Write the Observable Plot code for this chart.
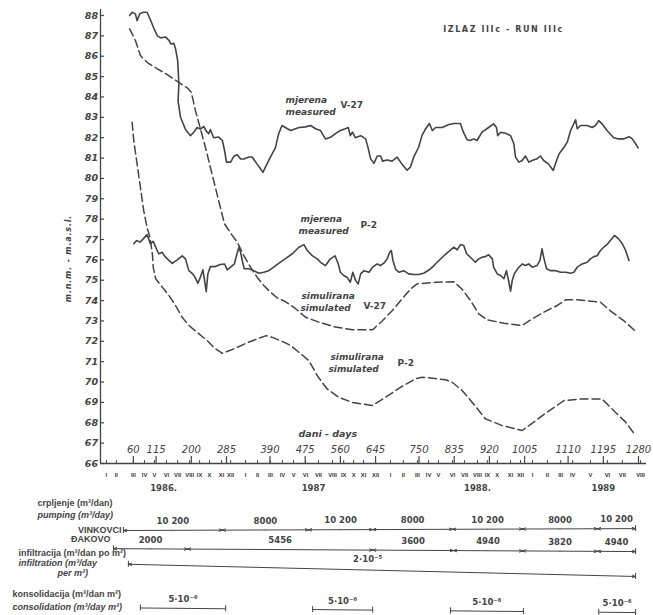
<!DOCTYPE html>
<html><head><meta charset="utf-8">
<script src="https://cdn.jsdelivr.net/npm/d3@7"></script>
<script src="https://cdn.jsdelivr.net/npm/@observablehq/plot@0.6"></script>
<style>body{margin:0;background:#fff}</style>
</head><body><div id="chart"></div>
<script>
// ---- data (days since start, m a.s.l.) ----
const measuredV27 = [[51,88.0],[57,88.16],[65,88.08],[69,87.75],[76,88.1],[85,88.16],[93,88.16],[101,87.8],[109,87.4],[118,87.0],[126,86.9],[138,86.94],[146,86.78],[151,86.6],[158,86.63],[162,86.36],[167,85.8],[170,84.65],[168,83.8],[174,83.0],[186,82.4],[198,82.1],[206,82.27],[214,82.5],[222,82.42],[230,82.55],[237,82.3],[242,82.2],[246,82.4],[254,82.0],[266,82.03],[275,81.86],[280,81.4],[285,80.8],[295,80.8],[303,81.1],[311,81.16],[319,80.95],[327,80.95],[339,81.05],[347,81.05],[359,80.7],[373,80.3],[379,80.55],[391,81.05],[403,81.5],[411,82.2],[419,82.6],[432,82.44],[440,82.35],[460,82.5],[476,82.53],[488,82.6],[500,82.44],[512,82.35],[524,81.94],[536,82.02],[548,82.2],[560,82.35],[572,82.44],[579,82.5],[584,82.1],[589,82.27],[596,82.0],[609,82.1],[621,81.94],[627,81.5],[633,80.96],[641,80.74],[649,81.1],[657,81.1],[662,80.85],[673,80.9],[685,80.85],[697,81.04],[709,80.7],[721,80.4],[729,80.55],[737,81.04],[749,81.53],[757,82.1],[766,82.44],[775,82.7],[782,82.35],[790,82.5],[806,82.5],[822,82.65],[834,82.7],[850,82.7],[857,82.27],[866,81.9],[874,81.86],[882,81.94],[890,81.86],[902,82.27],[918,82.5],[930,82.68],[937,82.5],[940,82.1],[947,82.27],[959,82.22],[971,82.1],[979,81.7],[983,81.04],[991,80.8],[999,80.88],[1007,81.1],[1015,80.8],[1023,80.88],[1035,80.96],[1043,81.1],[1051,80.88],[1063,80.7],[1074,80.39],[1079,80.7],[1088,81.2],[1100,81.53],[1108,81.78],[1116,82.35],[1128,82.88],[1132,82.44],[1140,82.6],[1156,82.6],[1168,82.5],[1176,82.6],[1184,82.84],[1192,82.68],[1204,82.35],[1220,82.0],[1232,81.94],[1244,81.94],[1257,82.05],[1265,81.94],[1273,81.7],[1279,81.5]];
const measuredP2 = [[61,76.79],[68,76.95],[76,76.87],[84,77.03],[93,77.24],[97,77.03],[101,76.79],[108,76.91],[114,76.62],[121,76.3],[130,76.37],[135,76.2],[142,76.05],[154,75.83],[166,76.0],[178,76.2],[186,76.05],[194,75.47],[202,75.34],[208,75.18],[216,74.85],[222,75.15],[228,75.51],[232,74.98],[236,74.44],[240,75.31],[246,75.67],[258,75.67],[270,75.77],[280,75.8],[287,75.51],[295,75.64],[304,75.8],[309,76.2],[315,76.62],[319,76.37],[323,75.97],[328,75.56],[339,75.56],[351,75.47],[363,75.34],[375,75.39],[387,75.47],[399,75.64],[411,75.83],[423,76.0],[444,76.3],[460,76.62],[472,76.75],[480,76.46],[492,76.21],[504,76.05],[512,75.88],[524,75.72],[536,76.05],[547,76.2],[555,75.8],[560,75.39],[568,75.23],[576,75.15],[584,74.9],[590,75.39],[597,74.98],[603,74.82],[609,75.31],[617,75.47],[629,75.39],[638,75.64],[649,75.8],[657,75.72],[667,75.88],[673,76.05],[679,76.37],[683,76.46],[687,75.97],[693,75.56],[701,75.39],[713,75.47],[725,75.31],[737,75.28],[749,75.28],[761,75.34],[774,75.5],[786,75.72],[798,75.97],[810,76.2],[822,76.42],[834,76.62],[842,76.49],[850,76.75],[858,76.7],[865,76.3],[874,76.13],[886,75.88],[894,76.05],[902,76.13],[910,76.16],[918,76.25],[927,76.05],[930,75.64],[939,75.31],[947,75.23],[955,75.07],[961,75.47],[967,74.9],[971,74.46],[975,74.98],[980,75.31],[988,75.56],[999,75.8],[1007,75.72],[1015,75.8],[1023,75.64],[1035,75.72],[1042,75.97],[1047,76.54],[1051,76.13],[1058,75.56],[1067,75.47],[1080,75.47],[1092,75.39],[1104,75.39],[1116,75.34],[1124,75.39],[1132,75.64],[1144,75.8],[1156,75.88],[1164,76.05],[1172,76.16],[1180,76.2],[1188,76.46],[1196,76.62],[1204,76.75],[1212,76.95],[1222,77.2],[1232,77.03],[1241,76.79],[1249,76.46],[1257,75.97]];
const simulatedV27 = [[51,87.35],[65,86.77],[77,86.04],[93,85.7],[118,85.38],[142,85.1],[166,84.76],[190,84.45],[200,84.23],[210,83.33],[222,82.44],[234,81.53],[246,80.55],[258,79.57],[269,78.67],[280,77.77],[291,77.44],[299,77.2],[311,76.87],[327,76.21],[343,75.64],[359,75.15],[375,74.74],[391,74.42],[407,74.14],[427,73.95],[452,73.6],[476,73.18],[508,72.94],[548,72.7],[589,72.57],[638,72.57],[661,73.0],[685,73.5],[709,74.08],[729,74.56],[745,74.82],[790,74.9],[834,74.93],[854,74.56],[876,73.95],[894,73.35],[915,73.05],[955,72.89],[999,72.78],[1023,73.1],[1051,73.43],[1084,73.76],[1104,74.04],[1132,74.04],[1188,73.92],[1212,73.5],[1244,73.02],[1273,72.49]];
const simulatedP2 = [[57,82.76],[61,81.86],[69,80.72],[77,79.57],[85,78.42],[93,77.6],[100,77.11],[106,76.3],[108,75.64],[114,75.07],[130,74.66],[146,74.25],[162,73.76],[178,73.18],[194,72.78],[214,72.44],[238,72.04],[254,71.7],[275,71.41],[303,71.63],[335,71.93],[359,72.12],[381,72.28],[399,72.17],[419,72.0],[440,71.8],[460,71.46],[484,71.05],[504,70.32],[528,69.66],[556,69.25],[589,69.0],[637,68.85],[669,69.25],[705,69.74],[741,70.16],[758,70.24],[814,70.11],[830,69.99],[854,69.59],[880,68.96],[910,68.2],[951,67.86],[999,67.62],[1027,68.03],[1059,68.52],[1100,69.09],[1140,69.17],[1192,69.17],[1220,68.6],[1249,68.03],[1273,67.37]];

const yTicks = d3.range(66, 89);
const dayTicks = [60,115,200,285,390,475,560,645,750,835,920,1005,1110,1195,1280];
const monthNames = ["I","II","III","IV","V","VI","VII","VIII","IX","X","XI","XII"];
const monthLabels = [...monthNames, ...monthNames, ...monthNames, ...monthNames.slice(0,8)];
const monthDays = [-5,19,60,87,111,140,167,196,220,244,273,295, 331,360,391,420,447,476,507,541,568,592,616,645, 681,712,746,773,797,831,860,891,915,939,971,995, 1024,1060,1092,1121,1164,1205,1241,1285];
const yearLabels = ["1986.","1987","1988.","1989"];
const yearDays = [133,495,891,1195];

// bottom: pumping / infiltration / consolidation schedules (days)
const vinkBreaks = [36,275,483,638,831,1000,1181,1273];
const vinkValues = ["10 200","8000","10 200","8000","10 200","8000","10 200"];
const dakBreaks = [12,191,638,833,1000,1181,1273];
const dakValues = ["2000","5456","3600","4940","3820","4940"];
const infBreaks = [48,1273];
const infValues = ["2·10⁻⁵"];
const infLabelDay = 626;
const consStart = [77,493,826,1184];
const consEnd = [283,638,1002,1273];
const consValues = ["5·10⁻⁶","5·10⁻⁶","5·10⁻⁶","5·10⁻⁶"];

// ---- layout helpers (pixel -> data units) ----
const X0 = 108, PXPD = 530/1280, Y88 = 15, PXPM = 20.36;
const dayAt = px => (px - X0) / PXPD;
const valAt = py => 88 - (py - Y88) / PXPM;
const C = "#444";
const FONT = "DejaVu Sans";
const FONT2 = "Liberation Sans";

function rowMarks(breaks, values, yl, yr, opts = {}) {
  const py = d => yl + (yr - yl) * ((X0 + d * PXPD) - 100) / 540;
  const segs = values.map((v, i) => ({a: breaks[i], b: breaks[i+1], v, m: opts.labelAt != null ? opts.labelAt : (breaks[i] + breaks[i+1]) / 2}));
  const arrows = [];
  segs.forEach(s => {
    const m = (s.a + s.b) / 2;
    arrows.push({x1: m, x2: s.a}, {x1: m, x2: s.b});
  });
  return [
    Plot.arrow(arrows, {x1: "x1", x2: "x2", y1: d => valAt(py(d.x1)), y2: d => valAt(py(d.x2)), stroke: C, strokeWidth: 1, headLength: 5, headAngle: 40}),
    Plot.ruleX([breaks[0]], {x: d => d, y1: d => valAt(py(d) - 3), y2: d => valAt(py(d) + 3), stroke: C, strokeWidth: 1}),
    Plot.ruleX([breaks[breaks.length-1]], {x: d => d, y1: d => valAt(py(d) - 3), y2: d => valAt(py(d) + 3), stroke: C, strokeWidth: 1}),
    Plot.text(segs, {x: "m", y: s => valAt(py(s.m) - (opts.lift || 9)), text: "v", fontSize: 8.5, fontWeight: "bold", fill: C, fontFamily: FONT})
  ];
}

function consMarks(yl, yr) {
  const py = d => yl + (yr - yl) * ((X0 + d * PXPD) - 100) / 540;
  const segs = consValues.map((v, i) => ({a: consStart[i], b: consEnd[i], v}));
  return [
    Plot.link(segs, {x1: "a", x2: "b", y1: s => valAt(py(s.a)), y2: s => valAt(py(s.b)), stroke: C, strokeWidth: 1}),
    Plot.ruleX(segs, {x: "a", y1: s => valAt(py(s.a) - 3), y2: s => valAt(py(s.a) + 3), stroke: C, strokeWidth: 1}),
    Plot.ruleX(segs, {x: "b", y1: s => valAt(py(s.b) - 3), y2: s => valAt(py(s.b) + 3), stroke: C, strokeWidth: 1}),
    Plot.text(segs, {x: s => (s.a + s.b) / 2, y: s => valAt(py((s.a + s.b) / 2) - 9), text: "v", fontSize: 8.5, fontWeight: "bold", fill: C, fontFamily: FONT})
  ];
}

const lineOpts = {x: d => d[0], y: d => d[1], stroke: C, strokeWidth: 1.6, strokeLinejoin: "round"};
const dashOpts = {...lineOpts, strokeWidth: 1.5, strokeDasharray: "8,4"};

function leftText(str, px, py, o = {}) {
  return Plot.text([str], {x: dayAt(px), y: valAt(py), text: d => d, textAnchor: o.anchor || "start", fontSize: o.size || 8.5, fontWeight: "bold", fontStyle: o.italic ? "italic" : "normal", fill: C, fontFamily: o.font || FONT});
}

const chart = Plot.plot({
  width: 653, height: 615, margin: 0,
  x: {domain: [0, 1280], range: [108, 638], axis: null},
  y: {domain: [66, 88], range: [463, 15], axis: null},
  style: {background: "#fff", fontFamily: FONT, color: C},
  marks: [
    // axes
    Plot.ruleX([dayAt(100)], {x: d => d, y1: valAt(9), y2: 66, stroke: C, strokeWidth: 1.3}),
    Plot.ruleY([66], {x1: dayAt(100), x2: dayAt(646), stroke: C, strokeWidth: 1.3}),
    Plot.ruleY(yTicks, {y: d => d, x1: dayAt(100), x2: dayAt(104), stroke: C, strokeWidth: 1.2}),
    Plot.text(yTicks, {x: dayAt(97.5), y: d => d, text: d => String(d), textAnchor: "end", fontSize: 9.5, fontWeight: "bold", fontStyle: "italic", fill: C}),
    Plot.ruleX(monthDays, {x: d => d, y1: 66, y2: valAt(460), stroke: C, strokeWidth: 1}),
    Plot.ruleX(dayTicks, {x: d => d, y1: 66, y2: valAt(456), stroke: C, strokeWidth: 1.2}),
    Plot.text(dayTicks, {x: d => d, y: valAt(449), text: d => String(d), fontSize: 10, fontStyle: "italic", fill: C}),
    Plot.text(monthLabels, {x: (d, i) => monthDays[i], y: valAt(475), text: d => d, fontSize: 5.8, fontWeight: "bold", fill: "#333", fontFamily: FONT2}),
    Plot.text(yearLabels, {x: (d, i) => yearDays[i], y: valAt(488), text: d => d, fontSize: 8.5, fontWeight: "bold", fill: C}),
    // y axis title
    Plot.text(["m.n.m. - m.a.s.l."], {x: dayAt(68), y: valAt(258), text: d => d, rotate: -90, fontSize: 8, fontWeight: "bold", fontStyle: "italic", fill: C}),
    // title
    Plot.text(["IZLAZ IIIc - RUN IIIc"], {x: dayAt(503), y: valAt(29), text: d => d, fontSize: 8, fontWeight: "bold", fill: C}),
    // series
    Plot.line(simulatedV27, dashOpts),
    Plot.line(simulatedP2, dashOpts),
    Plot.line(measuredV27, lineOpts),
    Plot.line(measuredP2, lineOpts),
    // series labels
    leftText("mjerena", 285, 100, {italic: true, size: 9}),
    leftText("measured", 285, 112, {italic: true, size: 9}),
    leftText("V-27", 340, 105, {size: 9}),
    leftText("mjerena", 300, 219, {italic: true, size: 9}),
    leftText("measured", 298, 231, {italic: true, size: 9}),
    leftText("P-2", 360, 225, {size: 9}),
    leftText("simulirana", 301, 296, {italic: true, size: 9}),
    leftText("simulated", 300, 308, {italic: true, size: 9}),
    leftText("V-27", 363, 306, {size: 9}),
    leftText("simulirana", 330, 357, {italic: true, size: 9}),
    leftText("simulated", 328, 369, {italic: true, size: 9}),
    leftText("P-2", 397, 363, {size: 9}),
    leftText("dani - days", 298, 433, {italic: true, size: 9.5}),
    // bottom annotations
    leftText("crpljenje (m³/dan)", 37, 503, {font: FONT2, size: 9}),
    leftText("pumping (m³/day)", 37, 515, {italic: true, font: FONT2, size: 9}),
    leftText("VINKOVCI", 121, 530, {anchor: "end", font: FONT2, size: 9}),
    leftText("ĐAKOVO", 110, 539, {anchor: "end", font: FONT2, size: 9}),
    leftText("infiltracija (m³/dan po m²)", 18, 553, {font: FONT2, size: 9}),
    leftText("infiltration (m³/day", 18, 563, {italic: true, font: FONT2, size: 9}),
    leftText("per m²)", 57, 573, {italic: true, font: FONT2, size: 9}),
    leftText("konsolidacija (m³/dan m²)", 12, 594, {font: FONT2, size: 9}),
    leftText("consolidation (m³/day m²)", 12, 607, {italic: true, font: FONT2, size: 9}),
    ...rowMarks(vinkBreaks, vinkValues, 530, 528),
    ...rowMarks(dakBreaks, dakValues, 548, 551),
    ...rowMarks(infBreaks, infValues, 563, 576, {lift: 11, labelAt: infLabelDay}),
    ...consMarks(607, 612)
  ]
});

d3.select(chart).selectAll("text").filter(function() { return this.textContent === "IZLAZ IIIc - RUN IIIc"; }).attr("letter-spacing", 1.6);
d3.select(chart).selectAll("text").filter(function() { return this.textContent === "m.n.m. - m.a.s.l."; }).attr("letter-spacing", 0.8);
document.getElementById("chart").appendChild(chart);
</script>
</body></html>
